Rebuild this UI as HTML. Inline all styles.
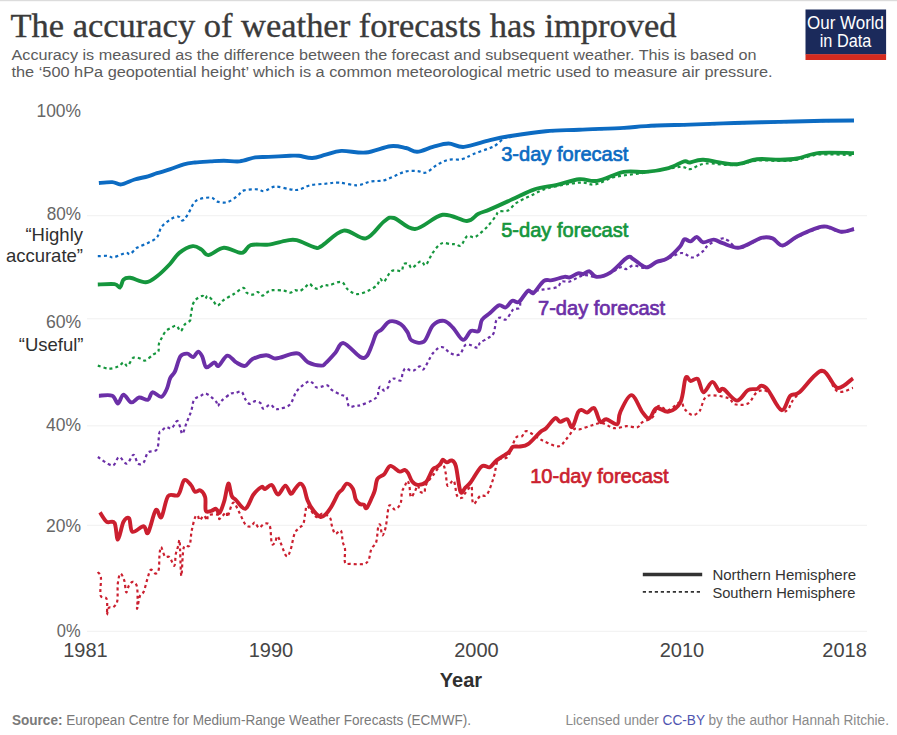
<!DOCTYPE html>
<html><head><meta charset="utf-8">
<style>
html,body{margin:0;padding:0;background:#fff;width:897px;height:735px;overflow:hidden}
svg{display:block}
text{font-family:"Liberation Sans",sans-serif}
.serif{font-family:"Liberation Serif",serif}
</style></head><body>
<svg width="897" height="735" viewBox="0 0 897 735">
<rect x="0" y="0" width="897" height="1.2" fill="#dcdcdc"/>
<text class="serif" x="10.5" y="37.3" font-size="34" fill="#3a3a3a" stroke="#3a3a3a" stroke-width="0.35" textLength="666" lengthAdjust="spacingAndGlyphs">The accuracy of weather forecasts has improved</text>
<text x="11.5" y="60.2" font-size="15.5" fill="#5b5b5b" textLength="745" lengthAdjust="spacingAndGlyphs">Accuracy is measured as the difference between the forecast and subsequent weather. This is based on</text>
<text x="11.5" y="76.9" font-size="15.5" fill="#5b5b5b" textLength="761" lengthAdjust="spacingAndGlyphs">the ‘500 hPa geopotential height’ which is a common meteorological metric used to measure air pressure.</text>
<rect x="805.5" y="9.5" width="80.6" height="45" fill="#1b2a5b"/>
<rect x="805.5" y="54.2" width="80.6" height="5.8" fill="#d42b1f"/>
<text x="845.5" y="28.6" font-size="17.5" fill="#fff" text-anchor="middle" textLength="77" lengthAdjust="spacingAndGlyphs">Our World</text>
<text x="845.5" y="47.1" font-size="17.5" fill="#fff" text-anchor="middle" textLength="51.6" lengthAdjust="spacingAndGlyphs">in Data</text>
<line x1="87" x2="867" y1="215.7" y2="215.7" stroke="#f0f0f0" stroke-width="1"/><line x1="87" x2="867" y1="318.8" y2="318.8" stroke="#f0f0f0" stroke-width="1"/><line x1="87" x2="867" y1="425.85" y2="425.85" stroke="#f0f0f0" stroke-width="1"/><line x1="87" x2="867" y1="525.3" y2="525.3" stroke="#f0f0f0" stroke-width="1"/><line x1="87" x2="867" y1="631.3" y2="631.3" stroke="#f0f0f0" stroke-width="1"/>
<g font-size="18.5" fill="#666" text-anchor="end">
<text x="81" y="117" textLength="44.5" lengthAdjust="spacingAndGlyphs">100%</text>
<text x="81" y="219.9" textLength="34.3" lengthAdjust="spacingAndGlyphs">80%</text>
<text x="81.2" y="327.8" textLength="35.3" lengthAdjust="spacingAndGlyphs">60%</text>
<text x="81" y="430.6" textLength="35" lengthAdjust="spacingAndGlyphs">40%</text>
<text x="81" y="531.8" textLength="35" lengthAdjust="spacingAndGlyphs">20%</text>
<text x="80.6" y="636.8" textLength="23.8" lengthAdjust="spacingAndGlyphs">0%</text>
</g>
<g font-size="18.5" fill="#2f2f2f" text-anchor="end">
<text x="83" y="240.7">“Highly</text>
<text x="83" y="261.5">accurate”</text>
<text x="83.5" y="350.6">“Useful”</text>
</g>
<g font-size="20" fill="#454545" text-anchor="middle">
<text x="85.5" y="657.2">1981</text>
<text x="270.9" y="657.2">1990</text>
<text x="476.4" y="657.2">2000</text>
<text x="681.9" y="657.2">2010</text>
<text x="844.6" y="657.2">2018</text>
</g>
<text x="461" y="687.3" font-size="20" font-weight="bold" fill="#2f2f2f" text-anchor="middle">Year</text>
<path d="M97.8,256.2C99.5,256.2 105.3,255.6 107.9,255.8C110.5,256 110.4,257.9 113.4,257.4C116.4,256.9 122.9,253.5 125.7,252.9C128.5,252.3 128.3,254.8 130.2,254C132.1,253.2 133.9,249.7 136.9,247.8C139.9,246 144.7,244.7 148,242.9C151.3,241.2 154.8,239.9 157,237.3C159.2,234.7 159.2,230.2 161.4,227.2C163.6,224.2 167.6,221.2 170.4,219.4C173.2,217.6 176.2,216.3 178.2,216.5C180.2,216.7 180.9,220.9 182.6,220.5C184.3,220.1 186,217.1 188.2,213.8C190.4,210.5 192.3,203.6 196,200.9C199.7,198.2 207,197.4 210.5,197.5C214,197.6 214.4,200.8 217.2,201.6C220,202.4 224,203.1 227.3,202.2C230.7,201.3 234.5,198 237.3,196C240.1,194 240.7,191.5 244,190.4C247.3,189.3 254,189.2 257.4,189.3C260.8,189.4 261.1,191.6 264.1,191.1C267.1,190.6 271,186.9 275.3,186.6C279.6,186.3 286.1,188.8 290,189.3C293.9,189.8 295.5,190.4 298.9,189.7C302.2,189 305.6,186.3 310.1,185.3C314.6,184.3 320.9,184.1 325.7,183.7C330.5,183.2 333.9,182.3 339.1,182.6C344.3,182.9 351.8,185.5 357,185.3C362.2,185.1 365.9,182.3 370.4,181.5C374.9,180.7 379.7,181.3 383.8,180.4C387.8,179.5 391.2,177.4 394.9,175.9C398.6,174.4 402.3,172.2 406,171.4C409.7,170.6 413.8,170.8 417.2,171C420.6,171.2 422.8,173.6 426.2,172.5C429.6,171.4 433.6,166.8 437.3,164.7C441,162.6 444.4,160.7 448.5,159.8C452.6,158.9 457.8,160.1 461.9,159.2C466,158.3 468.3,156.1 473,154.2C477.7,152.3 486.2,149.5 490,148C493.8,146.5 493.8,146.5 496,145C498.2,143.5 500.7,140.5 503.4,139C506.1,137.5 505.2,137.2 512.3,136C519.4,134.8 534.6,132.5 545.8,131.5C557,130.5 566.3,130.6 579.3,130C592.3,129.4 612.7,128.8 623.9,128.2C635.1,127.6 635.2,127 646.2,126.4C657.3,125.9 675.3,125.4 690,124.9C704.7,124.4 719.7,123.8 734.6,123.3C749.5,122.8 764.4,122.6 779.3,122.2C794.2,121.8 811.4,121.3 823.9,121.1C836.4,120.9 849,120.8 854,120.8" stroke="#0c6bc2" stroke-width="2.2" stroke-dasharray="3 3" fill="none"/>
<path d="M97.8,365.6C99.6,366.1 105.2,368.4 108.6,368.6C112,368.8 115.6,367.6 118.1,366.6C120.6,365.6 122,362.6 123.6,362.5C125.2,362.4 126.1,366.7 127.7,365.9C129.3,365.1 131.1,359.1 133.1,357.8C135.1,356.6 137.9,357.9 139.9,358.4C141.9,358.8 143,361.2 145.3,360.5C147.6,359.8 151.3,355.9 153.5,354.4C155.7,352.9 157.4,353.4 158.3,351.6C159.2,349.8 158.4,345.8 159,343.5C159.6,341.2 160.6,340.1 161.7,338C162.8,335.9 164.1,332.9 165.7,331.2C167.3,329.5 169.4,328.7 171.2,327.8C173,326.9 175,325.2 176.6,325.8C178.2,326.4 179.3,331.4 180.7,331.2C182.1,331 183.2,326.2 184.8,324.4C186.4,322.6 189.2,321.9 190.2,320.3C191.2,318.7 190.4,317.6 190.9,314.9C191.4,312.2 192,306.7 193,304C194,301.3 195.4,300 197,298.6C198.6,297.2 201.1,295.9 202.5,295.9C203.9,295.9 204.3,298.6 205.2,298.6C206.1,298.6 206.5,295.4 207.9,295.9C209.3,296.3 211.8,299.7 213.4,301.3C215,302.9 215.8,305.8 217.5,305.6C219.2,305.4 220.9,302 223.6,300.1C226.3,298.2 230.5,296 233.8,294C237.1,292 241.2,288.1 243.3,287.9C245.5,287.7 245.2,291.6 246.7,292.7C248.2,293.8 250.4,294.8 252.2,294.7C254,294.6 255.9,291.9 257.6,292C259.3,292.1 260.9,295.5 262.4,295.6C263.9,295.7 264.8,293.6 266.5,292.7C268.2,291.8 269.8,290.5 272.6,290.2C275.4,289.9 280.6,290.2 283.5,290.6C286.4,291 288.4,292.8 290.3,292.7C292.2,292.6 293.4,290.5 295,290.2C296.6,289.9 298.1,291.5 299.8,291C301.5,290.5 303.6,288.4 305.2,287.2C306.8,286 307.9,283.8 309.3,283.8C310.7,283.8 311.9,286.4 313.4,287.2C314.9,288 316.5,289.1 318.2,288.8C319.9,288.5 321.7,285.8 323.6,285.2C325.5,284.6 326.8,285.8 329.7,285.2C332.6,284.6 338.2,281.1 341.3,281.9C344.4,282.6 345.4,287.7 348,289.7C350.6,291.7 353.6,293.9 357,294.1C360.4,294.3 364.8,292.3 368.1,290.8C371.4,289.3 375,287.2 377,285.2C379,283.2 378.8,279.6 380,279C381.2,278.4 382.3,282.9 384.1,281.6C385.9,280.3 388.6,273.2 390.9,271.4C393.2,269.6 395.9,270.8 397.7,270.7C399.5,270.6 400.8,271.8 401.8,270.7C402.8,269.6 402.7,265.1 403.8,264C404.9,262.9 407.2,263.3 408.6,264C410,264.7 410,268.5 412,268C414,267.5 418.5,261.6 420.8,261.2C423.1,260.8 423.8,266.4 425.6,265.3C427.4,264.2 429.6,257.7 431.7,254.4C433.8,251.1 436.5,247.5 438.5,245.6C440.5,243.7 441.9,243.1 443.9,242.9C445.9,242.7 448.8,244 450.7,244.2C452.6,244.4 453.8,244 455.5,244.2C457.2,244.4 459.1,246.9 461,245.6C462.9,244.2 465,237.5 467.1,236.1C469.2,234.7 471.9,237.8 473.9,237.4C475.9,237.1 477,235.8 479.3,234C481.6,232.2 484.8,229.4 487.5,226.5C490.2,223.6 493.7,218.8 495.6,216.3C497.5,213.8 496.8,212.6 498.9,211.6C500.9,210.6 504.9,212 507.9,210.5C510.9,209 513.1,205.1 516.8,202.7C520.5,200.3 525,198.4 530.2,196C535.4,193.6 539.8,190.4 548,188.2C556.2,186 571.5,183.2 579.3,182.6C587.1,182 588.9,185.3 594.9,184.4C600.9,183.5 606.4,179 615,177C623.6,175 635.5,174.2 646.2,172.5C657,170.8 672.4,167.6 679.7,167C687,166.4 685.7,169.8 690,169.2C694.3,168.6 698.2,164.2 705.6,163.5C713,162.8 726,165.7 734.6,165.2C743.2,164.7 749.5,161.2 757,160.5C764.5,159.8 772.6,161.1 779.3,161C786,160.9 790.4,160.8 797.1,159.7C803.8,158.6 810.2,155.2 819.5,154.5C828.8,153.8 847.4,155.1 853,155.2" stroke="#15963d" stroke-width="2.2" stroke-dasharray="3 3" fill="none"/>
<path d="M97.8,457C100.2,458.4 108.8,465.5 112.3,465.5C115.8,465.5 116.6,457.3 119,457C121.4,456.7 124.4,464.1 126.8,463.7C129.2,463.3 131.6,454.8 133.5,454.8C135.4,454.8 136.3,462.4 138,463.7C139.7,465 141.9,464.5 143.6,462.6C145.3,460.8 145.8,454.8 148,452.6C150.2,450.4 155.1,452.4 157,449.2C158.9,446 158.5,436.6 159.2,433.6C159.9,430.6 160.2,432.3 161.4,431.2C162.6,430.1 164.4,427.6 166.1,427.1C167.8,426.6 169.8,429.4 171.6,428.4C173.4,427.4 175.7,421.4 177,421C178.3,420.6 178.8,423.6 179.7,425.7C180.6,427.8 181.3,434.3 182.4,433.9C183.5,433.4 185,426.9 186.5,423C188,419.1 190.1,414.6 191.3,410.7C192.6,406.8 192.4,402.4 194,399.9C195.6,397.4 198.8,396.8 200.8,395.8C202.9,394.8 203.8,392.8 206.3,393.7C208.8,394.6 213.9,399.1 215.8,401.2C217.7,403.2 216.9,406 217.8,406C218.7,406 219,403.2 221.2,401.2C223.3,399.1 228.3,395 230.7,393.7C233.1,392.4 233.7,393.4 235.5,393.1C237.3,392.8 239.9,390.6 241.6,391.7C243.3,392.8 244.3,397.9 245.7,399.9C247.1,401.9 248.2,403.7 249.8,403.9C251.4,404.1 253.4,401.3 255.2,401.2C257,401.1 259.3,402.1 260.7,403.3C262.1,404.6 261.8,408.5 263.4,408.7C265,408.9 268.3,404.6 270.2,404.6C272.1,404.6 273.4,408 275,408.7C276.6,409.4 277.5,409.4 280,408.7C282.5,408 287.2,407.5 290,404.6C292.8,401.7 293.8,395 296.7,391.2C299.6,387.4 304.9,383.3 307.5,381.9C310.1,380.5 310.7,381.7 312.2,382.6C313.7,383.5 314.7,386.6 316.3,387.3C317.9,388 320,387 321.8,386.7C323.6,386.4 325.5,384.7 327.2,385.3C328.9,385.9 329.7,388.5 332,390.1C334.3,391.7 338.4,393.7 340.8,394.8C343.2,395.9 344.9,395 346.3,396.9C347.7,398.8 347.4,404.9 349,406.4C350.6,407.9 353.8,405.9 355.8,405.7C357.8,405.5 358.5,405.9 361.2,405C363.9,404.1 369.4,401.8 372.1,400.3C374.8,398.8 376.6,397.8 377.6,396.2C378.6,394.6 377.8,392.3 378.2,390.7C378.6,389.1 379.3,386.7 380.3,386.7C381.3,386.7 383,390.7 384.4,390.7C385.8,390.7 387.5,388.3 388.4,386.7C389.3,385.1 388.9,382.6 389.8,381.2C390.7,379.8 392.1,378.6 393.9,378.5C395.7,378.4 399.2,381.4 400.7,380.5C402.2,379.6 401.9,375.1 402.7,373.1C403.5,371.1 404.1,368.8 405.4,368.3C406.6,367.8 408.7,370 410.2,370.3C411.7,370.6 412.7,371 414.3,370.3C415.9,369.6 418.1,366.5 419.7,366.3C421.3,366.1 421.7,371.1 423.9,368.9C426.1,366.7 429.9,356.9 432.9,353.3C435.9,349.7 438.8,347 441.8,347C444.8,347 447.7,352.1 450.7,353.3C453.7,354.5 457,355.9 459.6,354.4C462.2,352.9 463.3,345.5 466.3,344.4C469.3,343.3 475.2,348 477.5,347.7C479.8,347.4 478.2,344.4 480,342.8C481.8,341.2 485.9,339.6 488.2,338C490.5,336.4 492.2,336.1 493.6,333.2C495,330.2 495.2,322.9 496.3,320.3C497.4,317.7 498.8,317.7 500.4,317.6C502,317.5 504.1,320.5 505.9,319.6C507.7,318.7 509.9,313.9 511.3,312.1C512.6,310.3 512.6,309.4 514,308.7C515.4,308 518.4,309.3 519.5,308.1C520.6,306.9 519.7,303.8 520.8,301.3C521.9,298.8 523.6,294.9 526.3,293.1C529,291.3 533.7,291.1 537.1,290.4C540.5,289.7 543.3,289.6 546.7,289C550.1,288.4 555.1,288.2 557.6,287C560.1,285.8 559.6,282.4 561.6,281.5C563.6,280.6 566.1,282.6 569.8,281.5C573.5,280.4 579.2,275.9 583.8,275.2C588.3,274.4 592.5,277.4 597,277C601.5,276.6 606.5,274.6 610.5,273C614.5,271.4 618.4,267.9 621,267.3C623.6,266.7 624.3,269.4 626.4,269.1C628.5,268.8 630.2,265.7 633.5,265.5C636.8,265.3 642.1,268.5 646,268C649.9,267.5 653.1,264 656.7,262.5C660.3,261 663.2,260.6 667.4,259C671.6,257.4 677.5,253.2 681.7,253C685.9,252.8 688.8,257.8 692.4,257.5C696,257.2 700.4,253.3 703.1,251.2C705.8,249.1 705.4,247.1 708.4,245C711.4,242.9 717.6,239.4 720.9,238.7C724.2,237.9 724.9,238.9 728,240.5C731.1,242.1 734.1,248.5 739.6,248.2C745.2,247.9 755.9,240 761.4,238.5C766.9,237 769.1,237.8 772.6,239C776.1,240.2 778.5,246.3 782.6,246C786.7,245.7 791,240.2 797.1,237.2C803.2,234.2 814.3,229.5 819.5,228C824.7,226.5 824.7,227.3 828.4,228C832.1,228.7 837.5,232 841.8,232.3C846.1,232.6 852,230.1 854,229.6" stroke="#6b2fa7" stroke-width="2.2" stroke-dasharray="3 3" fill="none"/>
<path d="M97.8,572C98.3,572.9 100.4,573.6 100.9,577.5C101.4,581.4 99.7,591.9 100.6,595.4C101.5,598.9 105.3,596.5 106.4,598.5C107.5,600.5 107.1,604.4 107.2,607.1C107.3,609.8 106.7,614.8 106.9,614.9C107.2,615 107.6,609.2 108.7,607.9C109.8,606.6 112,608.3 113.4,607.1C114.8,605.9 116.6,604.8 117.3,600.9C118,597 117.3,588.2 117.8,583.7C118.3,579.2 119.3,574.1 120.4,573.6C121.5,573.1 123.3,577.5 124.3,580.6C125.3,583.7 125.4,591.5 126.2,592.3C127,593.1 127.9,587 129,585.3C130.1,583.5 131.6,581.7 132.9,581.8C134.2,581.9 136,583.1 136.8,586C137.6,588.9 137.6,595.5 137.6,599.3C137.6,603.1 136.7,609.2 137.1,608.7C137.5,608.2 138.8,599.1 139.9,596.2C141,593.3 142.5,594.6 143.8,591.5C145.1,588.4 146.6,581.1 147.8,577.5C148.9,573.9 149.6,570.4 150.9,569.7C152.2,569.1 154.2,573.6 155.6,573.6C156.9,573.6 158,572.7 158.7,569.7C159.4,566.7 159.1,559.4 159.5,555.6C159.9,551.8 160.1,546.9 161,547C161.9,547.1 163.5,554.7 164.9,556.4C166.3,558.1 168,555.6 169.6,557.2C171.2,558.8 173.3,566.3 174.3,565.8C175.3,565.2 175.2,557.3 175.8,554C176.5,550.7 177.5,548.3 178.2,546.2C178.8,544.1 179.2,536.7 179.7,541.6C180.2,546.5 180.6,574.9 181.3,575.9C182,576.9 182.3,552.9 183.7,547.8C185,542.7 188.2,548.3 189.5,545.5C190.8,542.7 190.7,535.9 191.6,531.2C192.5,526.6 194,520.2 195,517.6C196,515 196.9,515.2 197.7,515.6C198.5,516 198.7,520.3 199.7,520.3C200.7,520.3 202.6,515.6 203.8,515.6C205.1,515.6 206.4,520.4 207.2,520.3C208,520.2 206.7,515.8 208.6,514.9C210.5,514 217,514.2 218.8,514.9C220.6,515.6 218.2,519.5 219.5,519C220.8,518.5 225,512.6 226.3,512.2C227.7,511.9 226.5,518.5 227.6,516.9C228.7,515.3 231.3,503.7 233.1,502.7C234.9,501.7 236.5,507.2 238.5,510.8C240.5,514.4 243.3,521.8 245.3,524.4C247.3,527 249.1,526.8 250.7,526.5C252.3,526.2 253.4,522.2 254.8,522.4C256.2,522.6 257.3,527.6 258.9,527.8C260.5,528 262.6,524 264.4,523.7C266.2,523.4 268.6,522.5 269.8,525.8C271,529.1 270.9,540.8 271.8,543.5C272.7,546.2 274.2,543.2 275.2,542.1C276.2,541 276.2,534.4 278,536.7C279.8,539 284,553.4 286.1,555.7C288.2,558 289,553.9 290.4,550.3C291.8,546.7 293.1,537.5 294.5,533.9C295.9,530.3 297.1,530.2 298.6,528.5C300.1,526.8 302.3,526.4 303.4,523.7C304.5,521 304.7,515.1 305.4,512.2C306.1,509.3 305.6,505.3 307.4,506.1C309.2,506.9 313.8,515.7 316.3,516.9C318.8,518.1 320.1,513.4 322.4,513.5C324.7,513.6 328.3,515.6 329.9,517.6C331.5,519.6 331,523.1 331.9,525.8C332.8,528.5 333.8,533.1 335.3,533.9C336.8,534.7 339.6,529.1 340.8,530.5C342.1,531.9 342.1,539 342.8,542.1C343.5,545.2 344.6,545.6 345,549C345.4,552.4 344.1,560 345,562.5C345.9,565 347.2,563.7 350.3,563.9C353.4,564.1 360.8,564.6 363.9,563.9C367,563.2 367.4,562.3 368.7,559.8C369.9,557.3 370.1,551.8 371.4,548.9C372.6,546 375.1,545.7 376.2,542.1C377.3,538.5 377.5,529.9 378.2,527.1C378.9,524.3 379.5,523.7 380.2,525.1C380.9,526.5 381.4,535 382.3,535.3C383.2,535.6 384.7,531.6 385.7,527.1C386.7,522.6 387.6,511.7 388.4,508.1C389.2,504.5 389.3,505.2 390.4,505.4C391.5,505.6 393.5,509.9 395.2,509.5C396.9,509.1 399.5,506.2 400.6,503.3C401.7,500.4 401.3,494.6 402,491.8C402.7,489 403.8,488.1 404.7,486.3C405.6,484.5 406.7,480.7 407.5,480.8C408.3,480.9 408.9,484.2 409.5,486.9C410.1,489.6 410,496.4 410.9,497.1C411.8,497.8 413.9,492.9 415,491C416.1,489.1 416.8,485.5 417.7,485.6C418.6,485.7 419.3,490.6 420.4,491.7C421.5,492.8 423.6,493.5 424.5,492.4C425.4,491.3 424.3,488 425.9,484.9C427.5,481.8 431.3,477.5 434,474C436.7,470.5 440.3,464 442.2,463.8C444.1,463.6 444.7,469.1 445.6,472.7C446.5,476.3 446.2,484.2 447.6,485.6C449,487 452.1,479.1 453.7,480.8C455.3,482.5 455.7,493 457.1,495.8C458.5,498.6 460.5,498.2 461.9,497.8C463.3,497.4 463.7,495 465.3,493.1C466.9,491.2 470.3,485.4 471.4,486.3C472.5,487.2 471.7,495.6 472.1,498.5C472.6,501.4 472.7,504.3 474.1,503.9C475.5,503.4 478.1,497.4 480.3,495.8C482.5,494.2 484.8,497.6 487.1,494.4C489.4,491.2 492.1,482.4 493.9,476.7C495.7,471 495.7,463.7 498,460.4C500.3,457.1 505,459.7 507.5,457C510,454.3 511.3,447.5 512.9,444.1C514.4,440.8 515.3,438.2 516.8,436.9C518.3,435.6 520.3,437.1 522,436.2C523.7,435.2 523.6,430.5 527,431.2C530.4,431.9 536.9,437.7 542.1,440.2C547.3,442.7 554.1,446.5 558.1,446.3C562.1,446.1 563.5,442.1 566.2,439.2C568.9,436.3 571.9,430.9 574.2,429.2C576.5,427.5 577.2,429.9 580.2,429.2C583.2,428.5 588.5,426.2 592.2,425.2C595.9,424.2 598.6,422.7 602.3,423.2C606,423.7 610.3,427.7 614.3,428.2C618.3,428.7 622.5,426.4 626.4,426.2C630.2,426 634.7,427.9 637.4,427.2C640.1,426.5 639.9,423.9 642.4,422.2C644.9,420.5 649.8,419.9 652.5,417.2C655.2,414.5 655.8,407.3 658.5,406.1C661.2,404.9 664.8,410.8 668.5,410.1C672.2,409.4 677.8,402.3 680.5,402.1C683.2,401.9 682.6,406.9 684.6,409.1C686.6,411.3 690.1,414.9 692.6,415.2C695.1,415.5 698.2,412.5 699.6,411.1C701,409.7 699.8,409.5 701.2,406.9C702.6,404.3 703.4,397.2 707.9,395.7C712.4,394.2 723.5,396.6 728,398C732.5,399.4 731.3,403.3 734.6,404.2C737.9,405.1 744.3,405.5 748,403.5C751.7,401.5 753.7,394.2 757,392.3C760.3,390.4 763.9,389 768,392C772.1,395 778.1,407.3 781.5,410.2C784.9,413.1 786,411.2 788.2,409.1C790.4,407.1 789.3,404.1 794.9,397.9C800.5,391.7 814.6,373.1 821.7,372C828.8,370.9 832.1,388.6 837.3,391.2C842.5,393.8 850.4,388.4 853,387.9" stroke="#cb1f2f" stroke-width="2.2" stroke-dasharray="3 3" fill="none"/>
<path d="M98.9,183C101.1,182.8 108.6,181.9 112.3,182.1C116,182.3 117.6,184.8 121.3,184.4C125,184 130.2,180.8 134.6,179.5C139,178.2 144.3,177.4 148,176.3C151.7,175.2 153.3,174.4 157,173.2C160.7,172 165.9,170.7 170.4,169.2C174.9,167.7 179.7,165.4 183.8,164.3C187.8,163.2 190.4,163 194.9,162.5C199.4,162 205.7,161.7 210.5,161.4C215.3,161.1 219.1,160.7 223.9,160.7C228.8,160.7 234.4,161.9 239.6,161.4C244.8,160.9 250.4,158.2 255.2,157.4C260,156.7 262.8,157.2 268.6,156.9C274.4,156.6 284.9,156 290,155.8C295.1,155.6 295.2,155.4 298.9,155.8C302.6,156.2 307.8,158.2 312.3,158C316.8,157.8 320.9,155.9 325.7,154.7C330.5,153.5 334.6,151.3 341.3,150.9C348,150.5 357.7,153.3 365.9,152.5C374.1,151.7 383.7,146.9 390.4,146.2C397.1,145.4 401.5,147.1 406,148C410.5,148.9 412.7,152 417.2,151.8C421.7,151.6 427.7,148.3 432.9,146.9C438.1,145.5 443.3,143.5 448.5,143.5C453.7,143.5 457.2,147.5 464.1,146.9C471,146.3 482,142.1 490,140.2C498,138.3 503,137.2 512.3,135.7C521.6,134.2 534.6,132.2 545.8,131.2C557,130.2 566.3,130.3 579.3,129.7C592.3,129.1 612.7,128.5 623.9,127.9C635.1,127.3 635.2,126.6 646.2,126.1C657.3,125.5 675.3,125.1 690,124.6C704.7,124.1 719.7,123.5 734.6,123C749.5,122.5 764.4,122.3 779.3,121.9C794.2,121.5 811.4,121 823.9,120.8C836.4,120.6 849,120.5 854,120.5" stroke="#0c6bc2" stroke-width="3.9" fill="none" stroke-linejoin="round" stroke-linecap="butt"/>
<path d="M97.8,284.5C100.6,284.4 110.9,283.6 114.6,284.1C118.3,284.6 118.6,288.1 120.1,287.4C121.6,286.6 121.8,281.2 123.5,279.6C125.2,278 126.5,277.4 130.2,277.8C133.9,278.2 141.3,282.6 145.8,282.3C150.3,282.1 153,279.4 157,276.3C161,273.2 166.3,267.9 170,264C173.7,260.1 175.5,255.9 179.3,252.9C183.1,249.9 189,246.8 192.7,246.2C196.4,245.6 199,248.1 201.6,249.6C204.2,251.1 204.6,255.4 208.3,255.1C212,254.8 218.3,248.2 223.9,247.8C229.5,247.4 237.3,253.4 241.8,252.9C246.3,252.4 246.2,246.5 250.7,245.1C255.2,243.7 262.7,245.3 268.6,244.6C274.6,243.8 281.7,241.3 286.4,240.6C291.1,239.9 292,239.1 296.7,240.2C301.4,241.3 310.5,246.3 314.6,247.3C318.7,248.3 316.4,249 321.2,246.2C326.1,243.4 336.2,231.9 343.6,230.6C351,229.3 359.2,239.9 365.9,238.4C372.6,236.9 379.3,224.9 384,221.5C388.7,218.1 388.8,216.8 394,218C399.2,219.2 406.9,229.5 415,229C423.1,228.5 433.9,216.1 442.6,214.8C451.3,213.5 461.1,221.1 467,221C472.9,220.9 474.2,215.9 478,214C481.8,212.1 484.3,211.8 490,209.4C495.7,207 504.9,202.7 512.3,199.3C519.7,196 527.1,191.7 534.6,189.3C542.1,186.9 549.5,186.5 557,184.8C564.5,183.1 572.6,179.9 579.3,179.2C586,178.5 589.7,182 597.1,180.8C604.5,179.6 615.7,173.4 623.9,171.9C632.1,170.4 638.8,172.5 646.2,171.9C653.7,171.3 662.3,169.8 668.6,168.1C674.9,166.3 680.6,162.3 684.2,161.4C687.8,160.5 686.8,162.8 690,162.5C693.2,162.2 696,159.5 703.4,159.8C710.8,160.1 725.7,164.4 734.6,164.3C743.5,164.2 749.5,159.9 757,159.2C764.5,158.4 772.6,159.9 779.3,159.8C786,159.7 790.4,159.7 797.1,158.5C803.8,157.3 810,153.8 819.5,152.9C829,152 848.2,153.1 854,153.1" stroke="#15963d" stroke-width="3.9" fill="none" stroke-linejoin="round" stroke-linecap="butt"/>
<path d="M98.9,395.7C101.1,395.7 109.1,394.4 112.3,395.7C115.5,397 116,403.7 117.9,403.5C119.8,403.3 121.3,394.8 123.5,394.6C125.7,394.4 128.7,401.9 131.3,402.4C133.9,402.9 136.3,397.9 139.1,397.5C141.9,397.1 145.8,400.6 148,399.7C150.2,398.8 150.3,392.8 152.5,392.3C154.7,391.8 159,397.4 161.4,396.8C163.8,396.2 165.3,392.1 166.8,389C168.3,385.9 168.8,381.1 170.2,378.1C171.6,375.2 173.3,374.9 175,371.3C176.7,367.7 178.4,359.2 180.4,356.3C182.4,353.4 185,353.5 187.2,353.6C189.3,353.7 191.5,357.3 193.3,357C195.1,356.7 196.6,351.7 198.1,351.6C199.6,351.5 200.8,353.7 202.2,356.3C203.6,358.9 204.3,366.2 206.3,367.2C208.3,368.2 212.4,362.6 214.4,362.4C216.4,362.2 216.3,367 218.5,365.9C220.7,364.8 224.4,356.2 227.3,355.6C230.2,355 233.2,360.7 236.2,362.4C239.1,364.1 242.3,366.5 245,365.9C247.7,365.3 249,360.8 252.5,359C256,357.2 262.5,355.3 266.1,355.2C269.7,355.1 272,358 274.3,358.4C276.6,358.8 277.4,358.4 280,357.7C282.6,357 286.9,355.1 290,354.4C293.1,353.7 295.9,352.4 298.9,353.7C301.9,355 304.2,360.2 307.9,362.2C311.6,364.2 318.2,365.5 321.2,365.6C324.2,365.7 323.5,365 325.9,362.9C328.3,360.8 332.5,356 335.4,352.7C338.3,349.4 339.4,342.4 343.5,343.1C347.6,343.8 356,354.5 359.9,356.7C363.8,358.9 364.7,358.1 366.7,356.1C368.7,354.1 370.5,348.2 372.1,344.5C373.7,340.8 374.6,336.1 376.2,333.6C377.8,331.1 379.3,331.5 381.6,329.5C383.9,327.5 386.6,322.3 389.8,321.4C393,320.5 397.8,322.3 400.7,324.1C403.6,325.9 405.7,329.5 407.5,332.2C409.3,334.9 408.9,338.8 411.6,340.4C414.3,342 420.3,344.2 423.9,341.7C427.4,339.2 429.5,328.9 432.9,325.4C436.2,321.9 440.7,320.5 444,320.9C447.3,321.3 449.7,324.4 452.9,327.6C456.1,330.8 460,339.3 463,339.9C466,340.5 468.2,332.5 470.8,331C473.4,329.5 476.7,332.9 478.6,331C480.5,329.1 480.1,322.8 482,319.8C483.9,316.8 487.2,315.5 490,313.1C492.8,310.7 496.3,306.2 498.9,305.3C501.5,304.4 503.4,308.2 505.6,307.5C507.8,306.8 510.1,301.7 512.3,300.8C514.5,299.9 516.4,303.6 519,301.9C521.6,300.2 525.5,292.3 527.9,290.8C530.3,289.3 530.8,294.6 533.5,293C536.2,291.4 540.8,283 543.9,280.9C547,278.8 548.7,280.9 552.1,280.2C555.5,279.5 561.5,277.3 564.4,276.8C567.3,276.3 567.5,278 569.8,277.4C572.1,276.8 575.7,274 578,273.4C580.3,272.8 581.5,274.4 583.4,274C585.3,273.6 587.4,270.8 589.5,271.3C591.6,271.8 592.8,276.6 596.3,276.8C599.8,277 605.1,275.8 610.3,272.6C615.5,269.4 623.4,259.7 627.3,257.5C631.2,255.3 630.4,257.6 633.5,259.2C636.6,260.8 642.1,266.9 646,267.3C649.9,267.8 653.1,263.4 656.7,261.9C660.3,260.4 663.5,260.9 667.4,258.4C671.3,255.9 677.1,250 679.9,246.8C682.7,243.6 682.6,240.2 684.4,239.3C686.2,238.4 688.5,241.8 690.6,241.4C692.7,241 694.7,236.8 696.8,236.9C698.9,237.1 700.3,241.9 703.1,242.3C705.9,242.8 710.5,239.4 713.8,239.6C717.1,239.8 718.4,241.9 722.7,243.2C727,244.5 733.2,248.5 739.6,247.6C746.1,246.7 755.9,239.4 761.4,237.9C766.9,236.4 769.1,237.1 772.6,238.4C776.1,239.7 778.5,245.8 782.6,245.5C786.7,245.2 791,239.7 797.1,236.6C803.2,233.5 814.3,228.8 819.5,227.2C824.7,225.6 824.7,226.4 828.4,227.2C832.1,227.9 837.5,231.4 841.8,231.7C846.1,232 852,229.4 854,229" stroke="#6b2fa7" stroke-width="3.9" fill="none" stroke-linejoin="round" stroke-linecap="butt"/>
<path d="M100,512.4C101.1,514 104.3,520 106.7,521.8C109.1,523.5 112.7,519.9 114.5,522.9C116.4,525.9 116.4,539.8 117.9,539.6C119.4,539.4 121.6,525.3 123.5,521.8C125.4,518.2 127.6,516.7 129.1,518.4C130.6,520.1 130,530.5 132.4,531.8C134.8,533.1 141,526 143.6,526.2C146.2,526.4 146,535.6 148,532.9C150,530.2 153.6,512.7 155.8,510.1C158.1,507.5 159.4,519.6 161.4,517.3C163.4,515 165.3,499.8 168.1,496.1C170.9,492.4 175.5,497.6 178.2,495C180.9,492.4 182,481.9 184.1,480.2C186.2,478.5 189.1,483.1 190.9,485C192.7,486.9 193.4,490.9 195,491.8C196.6,492.7 198.7,489.5 200.4,490.4C202.1,491.3 204.3,493.8 205.2,497.2C206.1,500.6 204.8,508.5 205.8,510.8C206.8,513.1 209.6,511.1 211.3,510.8C213,510.5 214.7,508.5 216.1,508.8C217.5,509.1 218.2,514.1 219.5,512.9C220.8,511.6 222.7,506.2 224.2,501.3C225.7,496.4 227.1,484.5 228.3,483.6C229.6,482.7 230.4,493.2 231.7,495.9C232.9,498.6 233.5,497.8 235.8,499.9C238.1,502 242.4,509.7 245.3,508.8C248.2,507.9 250.8,498.1 253.5,494.5C256.2,490.9 259.7,487.9 261.6,487C263.5,486.1 263.3,489.3 265,489C266.7,488.7 269.6,484.1 271.8,485C274,485.9 275.7,494.4 278,494.5C280.3,494.6 283.2,485.7 285.4,485.6C287.5,485.5 289.3,493.2 290.9,493.8C292.5,494.4 293.5,490.7 295,489C296.5,487.3 298.5,483.8 300,483.6C301.5,483.4 302.8,485 304,487.7C305.2,490.4 305.8,496 307.4,499.9C309,503.8 311.4,508 313.6,510.8C315.8,513.6 318.4,516.3 320.4,516.9C322.4,517.5 324,515.9 325.8,514.2C327.6,512.5 329.2,510.1 331.3,506.7C333.4,503.3 336.3,496.6 338.1,493.8C339.9,491 340.6,491.4 342.1,489.7C343.6,488 345.1,483.7 346.9,483.6C348.7,483.5 351.5,486.4 353,489C354.5,491.6 354.6,496.8 355.7,499.3C356.8,501.8 358.4,503.1 359.8,504C361.2,504.9 362.8,504 363.9,504.7C365,505.4 365.2,509.4 366.6,508.1C368,506.9 370.7,500.1 372.1,497.2C373.5,494.2 373.9,493.5 374.8,490.4C375.7,487.3 375.9,481.5 377.5,478.8C379.1,476.1 382.2,476.2 384.3,474.1C386.4,472 387.9,466.3 390.4,465.9C392.9,465.5 397,470.8 399.4,471.5C401.8,472.2 403.3,469.6 404.8,469.9C406.3,470.2 407,471.4 408.2,473.3C409.4,475.2 410.6,479.6 412.2,481.5C413.8,483.4 415.4,484.8 417.7,484.9C420,485 423.4,484.8 425.9,482.2C428.4,479.6 430.9,471.8 432.7,469.3C434.5,466.8 435.3,468.2 436.7,467.2C438.1,466.2 439.8,464.4 440.8,463.1C441.8,461.9 441.9,459.8 442.9,459.7C443.9,459.6 445.4,462.3 446.9,462.4C448.4,462.5 450.2,459.8 451.7,460.4C453.2,461 454.3,460.7 455.8,465.9C457.3,471.1 458.9,488.1 460.5,491.7C462.1,495.3 463.6,489.2 465.3,487.6C467,486 468,485.7 470.7,482.2C473.4,478.7 478.4,469 481.6,466.5C484.8,464 487.3,468.2 489.8,467.2C492.3,466.2 493.4,462.9 496.6,460.4C499.8,457.9 506.1,454.5 508.8,452.2C511.5,449.9 511,447.8 512.9,446.8C514.8,445.9 517.5,446.9 520,446.5C522.5,446.1 524.6,446.6 528,444.2C531.4,441.9 537.1,434.9 540.1,432.2C543.1,429.5 543.6,430.5 546.1,428.2C548.6,425.9 552.8,419.3 555.1,418.2C557.4,417.1 558.1,421.6 560.1,421.8C562.1,422 565.2,418.3 567.2,419.2C569.2,420.1 570.4,428.4 572.2,427.2C574,426 576.5,415 578.2,412.1C579.9,409.2 580.7,410 582.2,410.1C583.7,410.2 585.2,412.8 587.2,412.5C589.2,412.2 592.1,406.6 594.2,408.1C596.4,409.7 598.3,420 600.3,421.8C602.3,423.6 603.5,418.8 606.3,419.2C609.1,419.6 615,425.4 617.3,424.2C619.6,423 617.9,417 620.3,412.1C622.6,407.2 627.7,395.1 631.4,395.1C635.1,395.1 639.4,408.2 642.4,412.1C645.4,416 647,418.9 649.4,418.2C651.8,417.5 653.3,409.2 656.5,408.1C659.7,407 664.5,412.7 668.5,411.7C672.5,410.7 677.6,407.7 680.5,402.1C683.4,396.5 683.9,381.5 685.6,378C687.3,374.5 688.6,380.8 690.6,381C692.6,381.2 695.7,377.1 697.8,379C699.9,380.9 701,391.8 703.4,392.3C705.8,392.8 709.7,382.1 712.3,381.9C714.9,381.6 717.1,389.6 719,390.8C720.9,392 720.5,387.4 723.5,389C726.5,390.6 732.8,400.4 736.9,400.6C741,400.8 744.6,392 748,390.1C751.4,388.2 754.8,389.7 757,389C759.2,388.3 759.5,385.5 761.4,385.7C763.2,385.9 764.8,386 768.1,390.1C771.5,394.2 777.8,409.3 781.5,410.2C785.2,411.1 787.4,398.7 790.4,395.7C793.4,392.7 794.2,396.5 799.4,392.3C804.6,388.1 815.4,371.4 821.7,370.7C828,370 832.1,386.6 837.3,387.9C842.5,389.2 850.4,379.9 853,378.3" stroke="#cb1f2f" stroke-width="3.9" fill="none" stroke-linejoin="round" stroke-linecap="butt"/>
<g font-size="20.5" stroke-width="0.7">
<text x="501.2" y="161.1" fill="#0c6bc2" stroke="#0c6bc2" textLength="127.2" lengthAdjust="spacingAndGlyphs">3-day forecast</text>
<text x="501.2" y="236.6" fill="#15963d" stroke="#15963d" textLength="127.2" lengthAdjust="spacingAndGlyphs">5-day forecast</text>
<text x="538" y="314.9" fill="#6b2fa7" stroke="#6b2fa7" textLength="127.2" lengthAdjust="spacingAndGlyphs">7-day forecast</text>
<text x="530.2" y="482.7" fill="#cb1f2f" stroke="#cb1f2f" textLength="138.4" lengthAdjust="spacingAndGlyphs">10-day forecast</text>
</g>
<line x1="642.8" x2="702.2" y1="574.5" y2="574.5" stroke="#333" stroke-width="3.6"/>
<line x1="642.8" x2="701" y1="591.9" y2="591.9" stroke="#333" stroke-width="1.8" stroke-dasharray="3.2 2.8"/>
<g font-size="15.5" fill="#333">
<text x="712.4" y="580.4" textLength="143.7" lengthAdjust="spacingAndGlyphs">Northern Hemisphere</text>
<text x="712.4" y="597.8" textLength="143" lengthAdjust="spacingAndGlyphs">Southern Hemisphere</text>
</g>
<text x="12" y="725.4" font-size="14" fill="#7a7a7a" textLength="459" lengthAdjust="spacingAndGlyphs"><tspan font-weight="bold">Source:</tspan> European Centre for Medium-Range Weather Forecasts (ECMWF).</text>
<text x="565.5" y="725.1" font-size="14" fill="#8a8a8a" textLength="323.5" lengthAdjust="spacingAndGlyphs">Licensed under <tspan fill="#5055b0">CC-BY</tspan> by the author Hannah Ritchie.</text>
</svg>
</body></html>
